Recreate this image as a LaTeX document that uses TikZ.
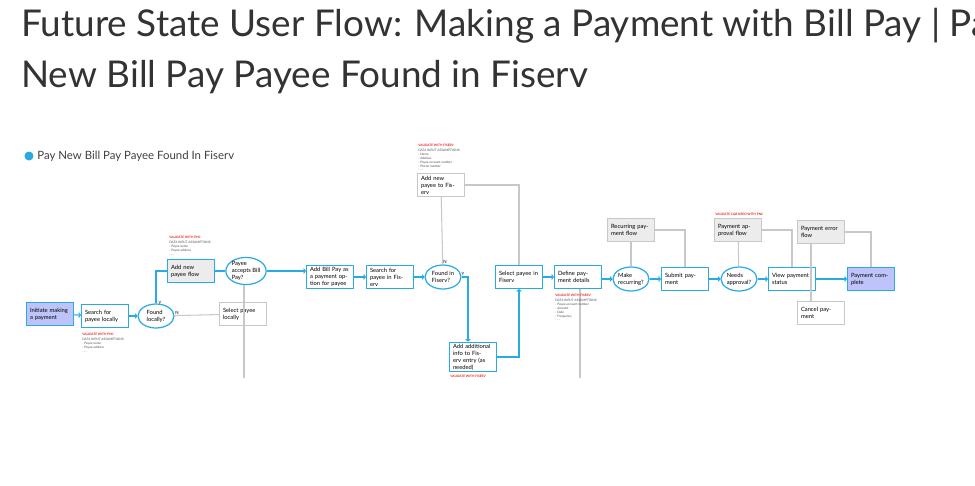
\documentclass[tikz,border=0pt]{standalone}
\usepackage{fontspec}
\setmainfont{Lato}
\usetikzlibrary{shapes.geometric,arrows.meta}
\definecolor{flowcyan}{RGB}{41,171,226}
\definecolor{flowgray}{RGB}{200,200,200}
\definecolor{boxgray}{RGB}{236,236,236}
\definecolor{lavender}{RGB}{190,195,250}
\definecolor{notered}{RGB}{235,30,30}
\tikzset{
  flowstep/.style={draw=flowcyan, line width=0.7pt, minimum width=0.94cm, minimum height=0.46cm,
    text width=0.8cm, align=left, font=\fontsize{3.3}{4}\selectfont, inner sep=1pt},
  sidestep/.style={flowstep, draw=flowgray},
  ask/.style={ellipse, draw=flowcyan, line width=0.7pt, minimum width=0.72cm, minimum height=0.48cm,
    align=left, font=\fontsize{3.3}{4}\selectfont, inner sep=0pt},
  flow/.style={draw=flowcyan, line width=0.6pt, -{To[length=1.5pt,width=3pt]}},
  flowline/.style={draw=flowcyan, line width=0.6pt},
  backline/.style={draw=flowgray, line width=0.6pt},
  note/.style={anchor=north west, align=left, font=\fontsize{1.8}{2.2}\selectfont, inner sep=0pt, text=black!70},
  warn/.style={anchor=north west, font=\fontsize{1.8}{2.2}\selectfont\bfseries, inner sep=0pt, text=notered},
  branchmark/.style={font=\fontsize{2.5}{3}\selectfont, inner sep=0pt}
}
\begin{document}
\begin{tikzpicture}[x=0.02cm,y=-0.02cm]
    \useasboundingbox (0,0) rectangle (975,485);
    % Titel
    \node[anchor=north west, align=left, font=\fontsize{21}{29}\selectfont, text=black!80, inner sep=0pt] (title) at (21,8)
      {Future State User Flow: Making a Payment with Bill Pay | Pay\\New Bill Pay Payee Found in Fiserv};
    % Legende
    \fill[flowcyan] (29,156) circle (4.5);
    \node[anchor=west, font=\fontsize{6.5}{8}\selectfont, text=black!75, inner sep=0pt] (legend) at (37,156) {Pay New Bill Pay Payee Found In Fiserv};
    % Schritte
    \node[flowstep, fill=lavender] (init) at (50,314) {Initiate making a payment};
    \node[flowstep] (searchlocal) at (105,316) {Search for payee locally};
    \node[ask] (foundlocal) at (156,316) {Found\\locally?};
    \node[flowstep, fill=boxgray] (addnew) at (191,271) {Add new payee flow};
    \node[ask] (accepts) at (246,271) {Payee\\accepts Bill\\Pay?};
    \node[sidestep] (selectlocal) at (243,314) {Select payee locally};
    \node[flowstep] (addbillpay) at (330,277) {Add Bill Pay as a payment option for payee};
    \node[flowstep] (searchfis) at (390,277) {Search for payee in Fiserv};
    \node[ask] (foundfis) at (443,277) {Found in\\Fiserv?};
    \node[sidestep] (addfis) at (441,185) {Add new payee to Fiserv};
    \node[flowstep] (addinfo) at (473,357) {Add additional info to Fiserv entry (as needed)};
    \node[flowstep] (selectfis) at (519,277) {Select payee in Fiserv};
    \node[flowstep] (define) at (578,277) {Define payment details};
    \node[ask] (recurring) at (631,279) {Make\\recurring?};
    \node[sidestep, fill=boxgray] (recflow) at (631,230) {Recurring payment flow};
    \node[flowstep] (submit) at (685,279) {Submit payment};
    \node[ask] (approval) at (739,279) {Needs\\approval?};
    \node[sidestep, fill=boxgray] (appflow) at (738,230) {Payment approval flow};
    \node[flowstep] (status) at (792,279) {View payment status};
    \node[sidestep, fill=boxgray] (errflow) at (821,232) {Payment error flow};
    \node[sidestep] (cancel) at (821,313) {Cancel payment};
    \node[flowstep, fill=lavender] (complete) at (871,279) {Payment complete};
    \coordinate (localend) at (244,378);
    \coordinate (defineend) at (580,378);
    % Verbindungen
    \draw[flow] (init) -- (searchlocal);
    \draw[flow] (searchlocal) -- (foundlocal);
    \draw[flowline] (foundlocal.north) |- (addnew.west);
    \draw[flowline] (addnew) -- (accepts);
    \draw[flow] (accepts) -- (accepts -| addbillpay.west);
    \draw[backline] (foundlocal) -- (selectlocal);
    \draw[backline] (accepts.south -| localend) -- (localend);
    \draw[flow] (addbillpay.east |- searchfis) -- (searchfis);
    \draw[flow] (searchfis) -- (foundfis);
    \draw[flow] (foundfis.east) -| (addinfo.north -| 468,0);
    \draw[flow] (addinfo.east) -| (selectfis.south);
    \draw[backline] (addfis) -- (foundfis);
    \draw[backline] (addfis.east) -| (selectfis.north);
    \draw[flow] (selectfis) -- (define);
    \draw[flow] (define.east |- recurring) -- (recurring);
    \draw[backline] (define.south -| defineend) -- (defineend);
    \draw[flow] (recurring) -- (submit);
    \draw[backline] (recflow) -- (recurring);
    \draw[backline] (recflow.east) -| (submit.north);
    \draw[flow] (submit) -- (approval);
    \draw[flow] (approval) -- (status);
    \draw[backline] (appflow) -- (approval);
    \draw[backline] (appflow.east) -| (status.north);
    \draw[flow] (status) -- (complete);
    \draw[backline] (errflow.south -| 811,0) -- (cancel.north -| 811,0);
    \draw[backline] (errflow.east) -| (complete.north);
    % Beschriftung
    \node[branchmark] (ylocal) at (160,303) {Y};
    \node[branchmark] (nlocal) at (177,313) {N};
    \node[branchmark] (nfis) at (445,262) {N};
    \node[branchmark] (yfis) at (463,274) {Y};
    % Notizen
    \node[warn] (pnctop) at (169,236) {VALIDATE WITH PNC};
    \node[note] (pnctopt) at (169,241) {DATA INPUT ASSUMPTIONS:\\- Payee name\\- Payee address\\- ...};
    \node[warn] (pncbot) at (82,333) {VALIDATE WITH PNC};
    \node[note] (pncbott) at (82,338) {DATA INPUT ASSUMPTIONS:\\- Payee name\\- Payee address\\- ...};
    \node[warn] (fistop) at (418,144) {VALIDATE WITH FISERV};
    \node[note] (fistopt) at (418,149) {DATA INPUT ASSUMPTIONS:\\- Name\\- Address\\- Payee account number\\- Phone number\\- ...};
    \node[warn] (fisbot) at (450,375) {VALIDATE WITH FISERV};
    \node[warn] (fisdef) at (555,294) {VALIDATE WITH FISERV};
    \node[note] (fisdeft) at (555,299) {DATA INPUT ASSUMPTIONS:\\- Payee account number\\- Amount\\- Date\\- Frequency\\- ...};
    \node[warn] (pncapp) at (715,213) {VALIDATE C\&B NEED WITH PNC};
\end{tikzpicture}
\end{document}
